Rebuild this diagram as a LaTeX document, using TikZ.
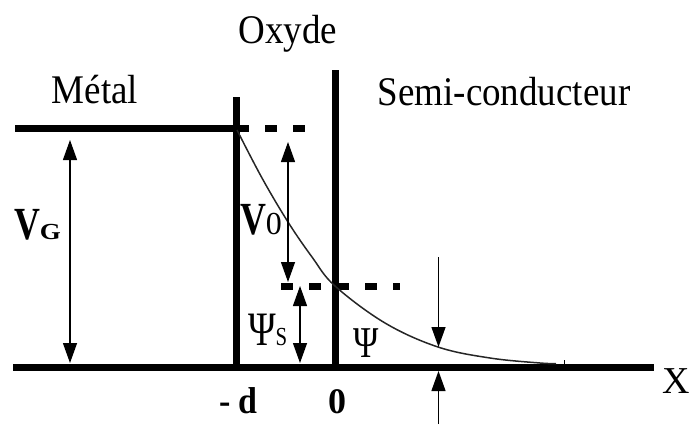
\documentclass[tikz,border=0pt]{standalone}
\usepackage{fontspec}
\usepackage{graphicx}
\setmainfont{Liberation Serif}
\usetikzlibrary{arrows.meta}
\tikzset{
  thickline/.style={line width=7pt, line cap=butt},
  dashline/.style={line width=7pt, dash pattern=on 12pt off 16pt},
  dimarrow/.style={line width=1.3pt, {Triangle[length=20pt,width=14pt]}-{Triangle[length=20pt,width=14pt]}},
  onearrow/.style={line width=1.3pt, -{Triangle[length=20pt,width=14pt]}},
  lbl/.style={inner sep=0pt, outer sep=0pt, font=\fontsize{37}{40}\selectfont},
  sym/.style={inner sep=0pt, outer sep=0pt},
}
\newcommand{\tallt}[1]{\scalebox{1}[1.1]{#1}}
\begin{document}
\begin{tikzpicture}[x=1pt,y=-1pt]
\useasboundingbox (0,0) rectangle (689,424);
% coordinates
\coordinate (mL) at (15,128.5);
\coordinate (mR) at (249,128.5);
\coordinate (d1) at (265,128.5);
\coordinate (d2) at (306,128.5);
\coordinate (aL) at (13,367);
\coordinate (aR) at (654,367);
\coordinate (oxT) at (236.5,97);
\coordinate (oxB) at (236.5,367);
\coordinate (scT) at (335,70);
\coordinate (scB) at (335,367);
\coordinate (e1) at (281,286);
\coordinate (e2) at (400,286);
% axis, walls, metal level
\draw[thickline] (mL) -- (mR);
\draw[dashline] (d1) -- (d2);
\draw[thickline] (aL) -- (aR);
\draw[thickline] (oxT) -- (oxB);
\draw[thickline] (scT) -- (scB);
\draw[dashline] (e1) -- (e2);
\draw[line width=1pt] (564,360) -- (564,364);
% potential curve
\draw[line width=1.5pt, black!85] plot[smooth, tension=0.6] coordinates
  {(237,130) (262,178) (288,222) (312,257) (335,286) (385,323) (438,347) (490,358) (540,363) (556,363.5)};
% dimension arrows
\coordinate (vg1) at (70,140);
\coordinate (vg2) at (70,363);
\draw[dimarrow] (vg1) -- (vg2);
\coordinate (v01) at (288,142);
\coordinate (v02) at (288,282);
\draw[dimarrow] (v01) -- (v02);
\coordinate (ps1) at (300,286);
\coordinate (ps2) at (300,363);
\draw[dimarrow] (ps1) -- (ps2);
\coordinate (p1) at (438.5,257);
\coordinate (p2) at (438.5,347);
\draw[onearrow] (p1) -- (p2);
\coordinate (p3) at (438.5,424);
\coordinate (p4) at (438.5,371);
\draw[onearrow] (p3) -- (p4);
% labels
\node[lbl, anchor=base] (oxyde) at (288,43) {\tallt{Oxyde}};
\node[lbl, anchor=base] (metal) at (95,103) {\tallt{Métal}};
\node[lbl, anchor=base] (semi) at (504,105) {\tallt{Semi-conducteur}};
\node[sym, anchor=base west] (VG) at (14,239) {\fontsize{46}{46}\selectfont\bfseries\scalebox{0.78}[1]{V}\fontsize{27}{27}\selectfont\scalebox{1}[0.85]{G}};
\node[sym, anchor=base west] (V0) at (240,234) {\fontsize{46}{46}\selectfont\bfseries\scalebox{0.78}[1]{V}\fontsize{32}{32}\selectfont\mdseries 0};
\node[sym, anchor=base west] (PsiS) at (248,345) {\fontsize{48}{48}\selectfont\scalebox{0.78}[1]{Ψ}\fontsize{26}{26}\selectfont\scalebox{0.8}[1]{S}};
\node[sym, anchor=base west] (Psi) at (353,357) {\fontsize{44}{44}\selectfont\scalebox{0.78}[1]{Ψ}};
\node[sym, anchor=base west] (md) at (219,413) {\fontsize{34}{34}\selectfont\bfseries\tallt{- d}};
\node[sym, anchor=base] (zero) at (337,413) {\fontsize{36}{36}\selectfont\bfseries 0};
\node[sym, anchor=base west] (X) at (662,393) {\fontsize{38}{38}\selectfont X};
\end{tikzpicture}
\end{document}
